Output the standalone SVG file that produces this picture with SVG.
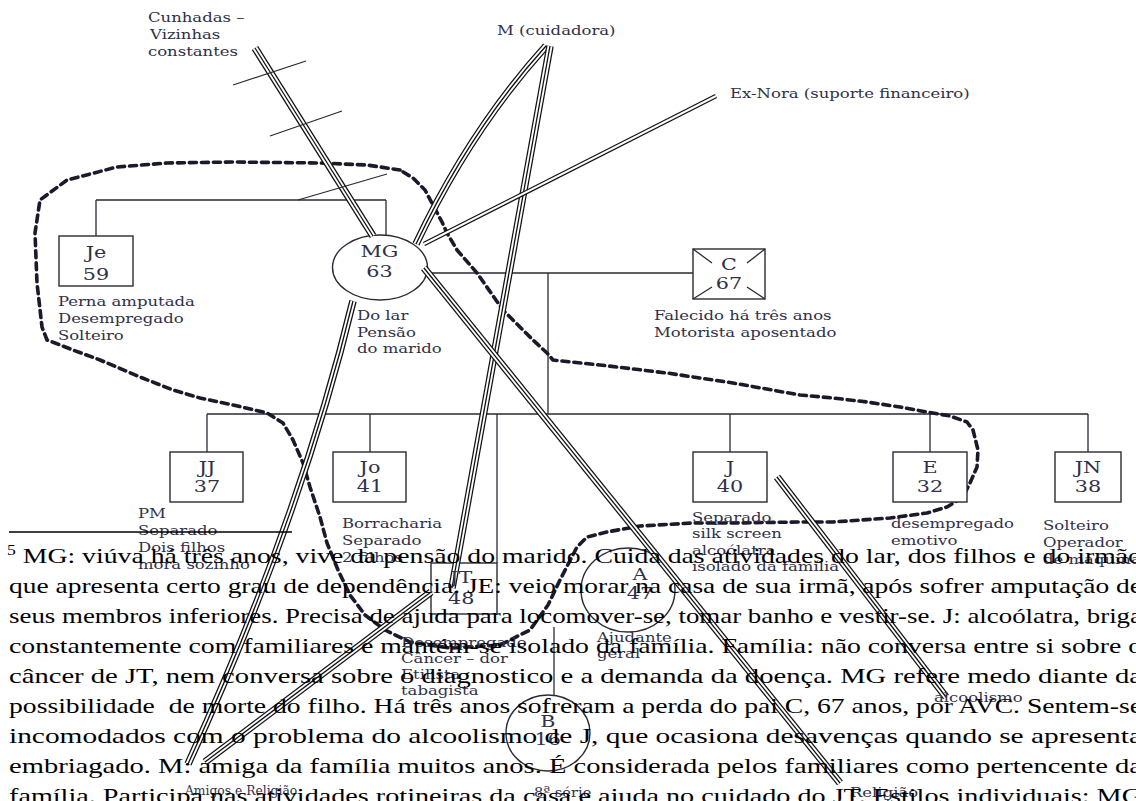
<svg xmlns="http://www.w3.org/2000/svg" width="1136" height="801" viewBox="0 0 1136 801">
<style>
.ln{stroke:#2a2a35;stroke-width:1.3;fill:none}
.box{fill:#fff;stroke:#2a2a35;stroke-width:1.4}
.ta{stroke:#111;stroke-width:7.5;fill:none}
.tb{stroke:#fff;stroke-width:5;fill:none}
.tc{stroke:#111;stroke-width:1.3;fill:none}
.da{stroke:#111;stroke-width:4.5;fill:none}
.db{stroke:#fff;stroke-width:2;fill:none}
.bd{stroke:#1a1a2a;stroke-width:3.6;stroke-dasharray:7 5;fill:none;stroke-linecap:round;stroke-linejoin:round}
.lb{font-family:"DejaVu Serif",serif;font-size:13.5px;fill:#30304a}
.nl{font-family:"DejaVu Serif",serif;font-size:17px;fill:#30304a;text-anchor:middle}
.fn{font-family:"Liberation Serif","Times New Roman",serif;font-size:22px;fill:#000}
</style>
<defs>
<path id="p1" d="M255,48 L373,236"/>
<path id="p2" d="M546,46 Q470,130 416,244"/>
<path id="p3" d="M550,46 L452,588"/>
<path id="p4" d="M353,301 Q300,520 188,764"/>
<path id="p5" d="M431,592 L205,762"/>
<path id="p6" d="M424,268 L840,783"/>
<path id="p7" d="M777,477 L946,697"/>
<path id="p8" d="M716,96 L424,244"/>
</defs>
<rect width="1136" height="801" fill="#fff"/>

<g id="family-lines">
<path class="ln" d="M96,200 H386 M96,200 V236 M386,200 V236"/>
<path class="ln" d="M427,273 H693 M548,273 V414"/>
<path class="ln" d="M207,414 H1088 M207,414 V452 M370,414 V452 M497,414 V563 M730,414 V452 M930,414 V452 M1088,414 V452"/>
<path class="ln" d="M554,627 V695"/>
</g>

<g id="boundary">
<path class="bd" d="M400,170 L367,165 L320,163 L233,162 L167,163 L117,167 L67,180 L40,200 L35,233 L37,283 L42,327 L47,340 L55,343 L73,350 L100,360 L140,377 L173,390 L200,398 L233,405 L267,413 L283,423 L293,440 L303,463 L310,487 L320,517 L327,543 L338,570 L350,595 L365,615 L385,630 L410,642 L450,648 L500,645 L530,630 L548,605 L560,580 L577,547 L587,537 L607,532 L640,526 L693,523 L733,523 L800,522 L833,522 L890,518 L927,513 L947,507 L963,497 L970,483 L977,467 L978,450 L973,430 L967,422 L950,416 L927,412 L900,407 L867,402 L833,398 L800,395 L733,383 L667,373 L600,365 L553,360 L547,353 L533,340 L503,310 L477,273 L457,250 L447,233 L442,222 L433,205 L425,190 L413,178 Z"/>
</g>

<g id="Je"><rect class="box" x="59" y="236" width="74" height="50"/></g>
<g id="MG"><ellipse class="box" cx="380" cy="267.5" rx="47.5" ry="32.5"/></g>
<g id="C"><rect class="box" x="693" y="249" width="72" height="50"/>
<path class="ln" d="M693,249 L712,263 M765,249 L747,263 M693,299 L712,287 M765,299 L747,287"/></g>
<g id="JJ"><rect class="box" x="170" y="452" width="73" height="50"/></g>
<g id="Jo"><rect class="box" x="333" y="452" width="73" height="50"/></g>
<g id="J"><rect class="box" x="693" y="452" width="74" height="50"/></g>
<g id="E"><rect class="box" x="893" y="452" width="74" height="50"/></g>
<g id="JN"><rect class="box" x="1055" y="452" width="66" height="50"/></g>
<g id="JT"><rect class="box" x="431" y="563" width="66" height="51"/></g>
<g id="A"><ellipse class="box" cx="628" cy="590" rx="47" ry="42"/></g>
<g id="B"><ellipse class="box" cx="548" cy="733" rx="42" ry="38"/></g>

<g id="connectors">
<g><use href="#p1" class="ta"/><use href="#p1" class="tb"/><use href="#p1" class="tc"/></g>
<path class="ln" d="M233,85 L306,61 M270,136 L342,111 M298,200 L387,174"/>
<g><use href="#p2" class="ta"/><use href="#p2" class="tb"/><use href="#p2" class="tc"/></g>
<g><use href="#p3" class="ta"/><use href="#p3" class="tb"/><use href="#p3" class="tc"/></g>
<g><use href="#p8" class="da"/><use href="#p8" class="db"/></g>
<g><use href="#p4" class="ta"/><use href="#p4" class="tb"/><use href="#p4" class="tc"/></g>
<g><use href="#p5" class="ta"/><use href="#p5" class="tb"/><use href="#p5" class="tc"/></g>
<g><use href="#p6" class="ta"/><use href="#p6" class="tb"/><use href="#p6" class="tc"/></g>
<g><use href="#p7" class="ta"/><use href="#p7" class="tb"/><use href="#p7" class="tc"/></g>
</g>

<g id="labels" transform="scale(1.22,1)">
<text class="lb" x="121.3" y="22">Cunhadas –</text>
<text class="lb" x="123" y="39">Vizinhas</text>
<text class="lb" x="121.3" y="56">constantes</text>
<text class="lb" x="407.4" y="35">M (cuidadora)</text>
<text class="lb" x="598.4" y="98">Ex-Nora (suporte financeiro)</text>
<text class="nl" x="78.7" y="258">Je</text><text class="nl" x="78.7" y="280">59</text>
<text class="lb" x="47.5" y="306">Perna amputada</text>
<text class="lb" x="47.5" y="323">Desempregado</text>
<text class="lb" x="47.5" y="340">Solteiro</text>
<text class="nl" x="311" y="257">MG</text><text class="nl" x="311" y="277">63</text>
<text class="lb" x="292.6" y="320">Do lar</text>
<text class="lb" x="292.6" y="337">Pensão</text>
<text class="lb" x="292.6" y="353">do marido</text>
<text class="nl" x="597.5" y="270">C</text><text class="nl" x="597.5" y="289">67</text>
<text class="lb" x="536" y="320">Falecido há três anos</text>
<text class="lb" x="536" y="337">Motorista aposentado</text>
<text class="nl" x="169.7" y="473">JJ</text><text class="nl" x="169.7" y="492">37</text>
<text class="nl" x="303.3" y="473">Jo</text><text class="nl" x="303.3" y="492">41</text>
<text class="nl" x="598.4" y="473">J</text><text class="nl" x="598.4" y="492">40</text>
<text class="nl" x="762.3" y="473">E</text><text class="nl" x="762.3" y="492">32</text>
<text class="nl" x="891.8" y="473">JN</text><text class="nl" x="891.8" y="492">38</text>
<text class="lb" x="113.1" y="518">PM</text>
<text class="lb" x="113.1" y="535">Separado</text>
<text class="lb" x="113.1" y="552">Dois filhos</text>
<text class="lb" x="113.1" y="569">mora sozinho</text>
<text class="lb" x="280.3" y="528">Borracharia</text>
<text class="lb" x="280.3" y="545">Separado</text>
<text class="lb" x="280.3" y="562">2 filhos</text>
<text class="lb" x="567.2" y="522">Separado</text>
<text class="lb" x="567.2" y="538">silk screen</text>
<text class="lb" x="567.2" y="555">alcoólatra</text>
<text class="lb" x="567.2" y="571">isolado da família</text>
<text class="lb" x="730.3" y="528">desempregado</text>
<text class="lb" x="730.3" y="545">emotivo</text>
<text class="lb" x="854.9" y="530">Solteiro</text>
<text class="lb" x="854.9" y="547">Operador</text>
<text class="lb" x="854.9" y="564">de máquinas</text>
<text class="nl" x="378" y="583">JT</text><text class="nl" x="378" y="604">48</text>
<text class="lb" x="328.7" y="647">Desempregado</text>
<text class="lb" x="328.7" y="663">Câncer – dor</text>
<text class="lb" x="328.7" y="679">Etilista</text>
<text class="lb" x="328.7" y="695">tabagista</text>
<text class="nl" x="524.6" y="580">A</text><text class="nl" x="524.6" y="599">47</text>
<text class="lb" x="489.3" y="642">Ajudante</text>
<text class="lb" x="489.3" y="658">geral</text>
<text class="nl" x="449" y="727">B</text><text class="nl" x="449" y="745">16</text>
<text class="lb" x="437.7" y="797" textLength="47" lengthAdjust="spacingAndGlyphs">8ª série</text>
<text class="lb" x="151.6" y="795" textLength="92" lengthAdjust="spacingAndGlyphs">Amigos e Religião</text>
<text class="lb" x="696.7" y="797">Religião</text>
<text class="lb" x="765.6" y="702">alcoolismo</text>
</g>

<g id="footnote">
<path d="M9,532 H292" stroke="#000" stroke-width="1.6"/>
<text class="fn" x="7" y="563" textLength="1135" lengthAdjust="spacingAndGlyphs"><tspan font-size="14" dy="-8">5</tspan><tspan dy="8"> MG: viúva há três anos, vive da pensão do marido. Cuida das atividades do lar, dos filhos e do irmão</tspan></text>
<text class="fn" x="9" y="593" textLength="1133" lengthAdjust="spacingAndGlyphs">que apresenta certo grau de dependência. JE: veio morar na casa de sua irmã, após sofrer amputação de</text>
<text class="fn" x="9" y="623" textLength="1133" lengthAdjust="spacingAndGlyphs">seus membros inferiores. Precisa de ajuda para locomover-se, tomar banho e vestir-se. J: alcoólatra, briga</text>
<text class="fn" x="9" y="653" textLength="1133" lengthAdjust="spacingAndGlyphs">constantemente com familiares e mantém-se isolado da família. Família: não conversa entre si sobre o</text>
<text class="fn" x="9" y="683" textLength="1133" lengthAdjust="spacingAndGlyphs">câncer de JT, nem conversa sobre o diagnostico e a demanda da doença. MG refere medo diante da</text>
<text class="fn" x="9" y="713" textLength="1133" lengthAdjust="spacingAndGlyphs" style="white-space:pre">possibilidade  de morte do filho. Há três anos sofreram a perda do pai C, 67 anos, por AVC. Sentem-se</text>
<text class="fn" x="9" y="743" textLength="1133" lengthAdjust="spacingAndGlyphs">incomodados com o problema do alcoolismo de J, que ocasiona desavenças quando se apresenta</text>
<text class="fn" x="9" y="773" textLength="1133" lengthAdjust="spacingAndGlyphs">embriagado. M: amiga da família muitos anos. É considerada pelos familiares como pertencente da</text>
<text class="fn" x="9" y="803" textLength="1133" lengthAdjust="spacingAndGlyphs">família. Participa nas atividades rotineiras da casa e ajuda no cuidado do JT. Estilos individuais: MG</text>
</g>
</svg>
